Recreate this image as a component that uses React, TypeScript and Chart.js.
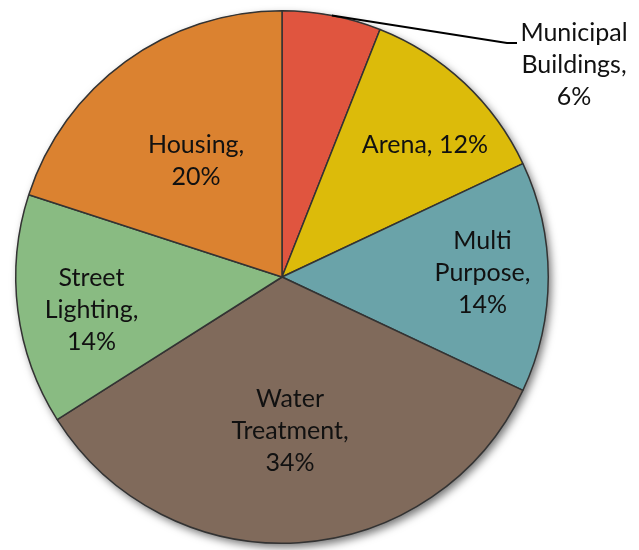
import React, { useEffect, useRef } from "react";
import { Chart, registerables } from "chart.js";

Chart.register(...registerables);

// ---- data ----
const categories = ["Municipal Buildings", "Arena", "Multi Purpose", "Water Treatment", "Street Lighting", "Housing"];
const values = [6, 12, 14, 34, 14, 20];
const colors = ["#e0553f", "#dcbb0a", "#6aa3a9", "#806a5b", "#89bb82", "#db8230"];

// ---- label layout (style, not data) ----
const labelLayout = [
  { outside: true, leaderEnd: [225, -234], leaderTail: 10, text: [292, -212], oneLine: false },
  { frac: 0.73, turn: 4.1, oneLine: true },
  { frac: 0.753, turn: -1.1, oneLine: false },
  { frac: 0.578, turn: 0.6, oneLine: false },
  { frac: 0.726, turn: -2.6, oneLine: false },
  { frac: 0.541, turn: -0.6, oneLine: false },
];

const FONT = "25px Lato, 'Open Sans', sans-serif";
const LINE_H = 32;

function labelLines(i: number): string[] {
  const words = categories[i].split(" ");
  const pct = `${values[i]}%`;
  if (labelLayout[i].oneLine) return [`${categories[i]}, ${pct}`];
  const lines = words.slice();
  lines[lines.length - 1] = lines[lines.length - 1] + ",";
  lines.push(pct);
  return lines;
}

function shade(hex: string, amt: number): string {
  const n = parseInt(hex.slice(1), 16);
  let r = (n >> 16) & 255, g = (n >> 8) & 255, b = n & 255;
  const f = (c: number) => Math.round(amt >= 0 ? c + (255 - c) * amt : c * (1 + amt));
  return `rgb(${f(r)},${f(g)},${f(b)})`;
}

const shadowPlugin = {
  id: "pieShadow",
  beforeDatasetsDraw(chart: any) {
    const arc = chart.getDatasetMeta(0).data[0];
    if (!arc) return;
    const { x, y, outerRadius } = arc.getProps(["x", "y", "outerRadius"], true);
    const ctx = chart.ctx;
    ctx.save();
    ctx.shadowColor = "rgba(0,0,0,0.55)";
    ctx.shadowBlur = 9;
    ctx.shadowOffsetX = 3;
    ctx.shadowOffsetY = 4;
    ctx.beginPath();
    ctx.arc(x, y, outerRadius, 0, Math.PI * 2);
    ctx.fillStyle = "#777";
    ctx.fill();
    ctx.restore();
  },
};

const labelPlugin = {
  id: "pieLabels",
  afterDatasetsDraw(chart: any) {
    const ctx = chart.ctx;
    const meta = chart.getDatasetMeta(0);
    ctx.save();
    ctx.font = FONT;
    ctx.fillStyle = "#111";
    ctx.textAlign = "center";
    ctx.textBaseline = "middle";
    meta.data.forEach((el: any, i: number) => {
      const { x, y, startAngle, endAngle, outerRadius } = el.getProps(
        ["x", "y", "startAngle", "endAngle", "outerRadius"], true);
      const mid = (startAngle + endAngle) / 2;
      const lay: any = labelLayout[i];
      const lines = labelLines(i);
      let cx: number, cy: number;
      if (lay.outside) {
        const sx = x + outerRadius * Math.cos(mid);
        const sy = y + outerRadius * Math.sin(mid);
        const ex = x + lay.leaderEnd[0];
        const ey = y + lay.leaderEnd[1];
        ctx.beginPath();
        ctx.moveTo(sx, sy);
        ctx.lineTo(ex, ey);
        ctx.lineTo(ex + lay.leaderTail, ey);
        ctx.strokeStyle = "#000";
        ctx.lineWidth = 2;
        ctx.stroke();
        cx = x + lay.text[0];
        cy = y + lay.text[1];
      } else {
        const a = mid + (lay.turn * Math.PI) / 180;
        cx = x + outerRadius * lay.frac * Math.cos(a);
        cy = y + outerRadius * lay.frac * Math.sin(a);
      }
      const top = cy - ((lines.length - 1) * LINE_H) / 2;
      lines.forEach((t, k) => ctx.fillText(t, cx, top + k * LINE_H));
    });
    ctx.restore();
  },
};

export default function App() {
  const ref = useRef<HTMLCanvasElement | null>(null);
  useEffect(() => {
    if (!ref.current) return;
    const chart = new Chart(ref.current, {
      type: "pie",
      data: {
        labels: categories,
        datasets: [
          {
            data: values,
            backgroundColor: (c: any) => {
              const base = colors[c.dataIndex];
              const ch = c.chart;
              const el = ch.getDatasetMeta(0).data[c.dataIndex];
              if (!ch.chartArea || !el) return base;
              const { x, y, outerRadius } = el.getProps(["x", "y", "outerRadius"], true);
              if (!outerRadius) return base;
              const g = ch.ctx.createLinearGradient(x, y - outerRadius, x, y + outerRadius);
              g.addColorStop(0, shade(base, 0.14));
              g.addColorStop(0.5, base);
              g.addColorStop(1, shade(base, -0.04));
              return g;
            },
            borderColor: "#333",
            borderWidth: 1.5,
          },
        ],
      },
      options: {
        animation: false,
        responsive: true,
        maintainAspectRatio: false,
        layout: { padding: { left: 15, right: 90, top: 10, bottom: 6 } },
        plugins: { legend: { display: false }, tooltip: { enabled: false } },
      },
      plugins: [shadowPlugin, labelPlugin],
    });
    return () => chart.destroy();
  }, []);
  return (
    <div style={{ position: "absolute", left: 0, top: 0, width: 639, height: 550, background: "#fff" }}>
      <canvas ref={ref} />
    </div>
  );
}
